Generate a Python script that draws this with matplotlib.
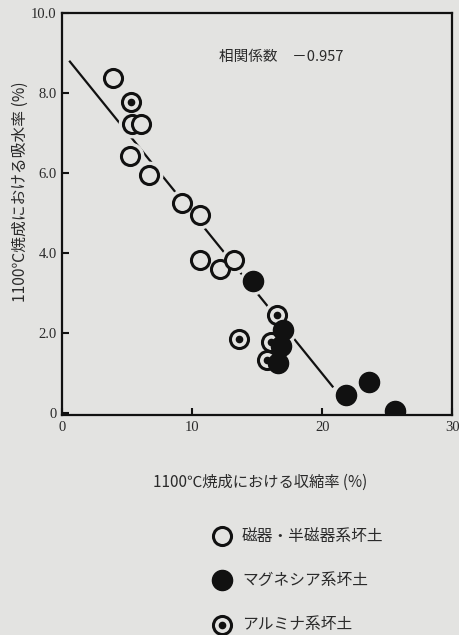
import matplotlib
matplotlib.use("Agg")
import matplotlib.pyplot as plt
from matplotlib.lines import Line2D
import numpy as np

plt.rcParams['font.family'] = ['Noto Sans CJK JP', 'DejaVu Sans']

# ---- data ----
porcelain_x = [3.9, 5.4, 6.1, 5.2, 6.7, 9.25, 10.6, 10.6, 12.15, 13.2]
porcelain_y = [8.38, 7.23, 7.23, 6.42, 5.95, 5.25, 4.94, 3.83, 3.59, 3.83]

magnesia_x = [14.7, 17.0, 16.8, 16.6, 21.8, 23.6, 25.6]
magnesia_y = [3.30, 2.07, 1.67, 1.26, 0.45, 0.77, 0.05]

alumina_x = [5.3, 13.6, 16.5, 16.1, 15.75]
alumina_y = [7.78, 1.85, 2.45, 1.79, 1.34]

reg_slope = -0.4015
reg_intercept = 9.02
reg_x_range = [0.6, 20.8]

x_ticks = [0, 10, 20, 30]
x_ticklabels = ['0', '10', '20', '30']
y_ticks = [0, 2, 4, 6, 8, 10]
y_ticklabels = ['0', '2.0', '4.0', '6.0', '8.0', '10.0']

corr_text = '相関係数　－0.957'
x_label = '1100℃焼成における収縮率 (%)'
y_label = '1100℃焼成における吸水率 (%)'
legend_labels = ['磁器・半磁器系坏土', 'マグネシア系坏土', 'アルミナ系坏土']

bg = '#e3e3e1'
ink = '#111111'
txt = '#2a2a2a'

fig = plt.figure(figsize=(4.6, 6.35), dpi=100, facecolor=bg)
ax = fig.add_axes([0.135, 0.346, 0.848, 0.634])
ax.set_facecolor(bg)

# regression line
rx = np.array(reg_x_range)
ax.plot(rx, reg_slope * rx + reg_intercept, color=ink, lw=1.6, zorder=1)

ms = 13
# halo (gaps around markers)
all_x = porcelain_x + magnesia_x + alumina_x
all_y = porcelain_y + magnesia_y + alumina_y
ax.plot(all_x, all_y, 'o', ms=ms + 6, mfc=bg, mec=bg, zorder=2)

ax.plot(porcelain_x, porcelain_y, 'o', ms=ms, mfc=bg, mec=ink, mew=2.2, zorder=3)
ax.plot(alumina_x, alumina_y, 'o', ms=ms, mfc=bg, mec=ink, mew=2.2, zorder=4)
ax.plot(alumina_x, alumina_y, 'o', ms=4.5, mfc=ink, mec=ink, zorder=5)
ax.plot(magnesia_x, magnesia_y, 'o', ms=ms + 1.5, mfc=ink, mec=ink, zorder=6)

ax.set_xlim(0, 30)
ax.set_ylim(-0.05, 10.0)
ax.set_xticks(x_ticks)
ax.set_xticklabels(x_ticklabels, family='Liberation Serif', fontsize=10.5)
ax.set_yticks(y_ticks)
ax.set_yticklabels(y_ticklabels, family='Liberation Serif', fontsize=10.5)
ax.tick_params(direction='in', length=5, width=1.5, colors=ink, pad=4)
ax.tick_params(labelcolor=txt)
for s in ax.spines.values():
    s.set_linewidth(1.6)
    s.set_color(ink)

ax.text(12.1, 8.9, corr_text, fontsize=10.5, color=txt, va='center', ha='left')

fig.text(260 / 460, 1 - 482 / 635, x_label, fontsize=11, color=txt, ha='center', va='center')
fig.text(20 / 460, 1 - 192 / 635, y_label, fontsize=11.3, color=txt, ha='center', va='center',
         rotation=90)

# legend
lx = 222 / 460
ly = [1 - 536 / 635, 1 - 580 / 635, 1 - 625 / 635]
fig.add_artist(Line2D([lx], [ly[0]], marker='o', ms=ms, mfc=bg, mec=ink, mew=2.2,
                      transform=fig.transFigure))
fig.add_artist(Line2D([lx], [ly[1]], marker='o', ms=ms + 1.5, mfc=ink, mec=ink,
                      transform=fig.transFigure))
fig.add_artist(Line2D([lx], [ly[2]], marker='o', ms=ms, mfc=bg, mec=ink, mew=2.2,
                      transform=fig.transFigure))
fig.add_artist(Line2D([lx], [ly[2]], marker='o', ms=4.5, mfc=ink, mec=ink,
                      transform=fig.transFigure))
for yy, lab in zip(ly, legend_labels):
    fig.text(242 / 460, yy, lab, fontsize=11.3, color=txt, ha='left', va='center')

fig.savefig('out.png', dpi=100, facecolor=bg)
